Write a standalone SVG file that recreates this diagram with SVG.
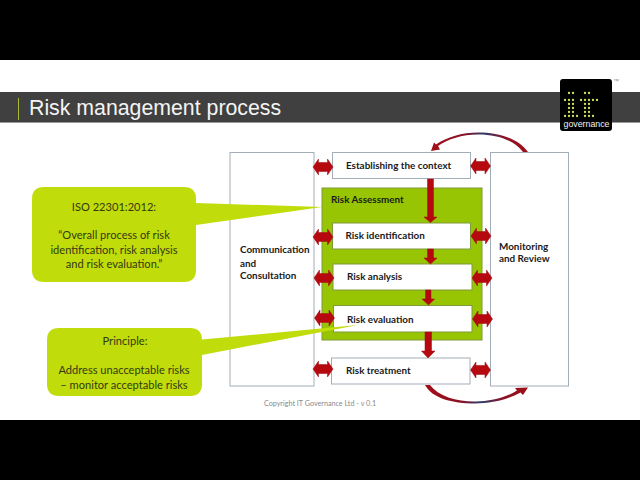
<svg xmlns="http://www.w3.org/2000/svg" width="640" height="480" viewBox="0 0 640 480">
<style>
.box{fill:#fff;stroke:#a3adb8;stroke-width:1}
.inner{fill:#fff;stroke:#7f9a3a;stroke-width:1}
.lbl{font-family:Lato,"Open Sans",sans-serif;font-weight:700;font-size:9.900px;fill:#1a1a1a}
.call{font-family:Lato,"Open Sans",sans-serif;font-size:11.100px;fill:#333a10;text-anchor:middle}
.lime{fill:#c1dc0b}
.red{fill:#b5090f;stroke:#a50a10;stroke-width:.5}
.d{fill:#d2e45c}
</style>
<defs>
<path id="dbl" d="M-10 0L-4.500 -8V-4.500H4.500V-8L10 0L4.500 8V4.500H-4.500V8Z"/>
<linearGradient id="cg" x1="0" x2="1" y1="0" y2="0"><stop offset="0" stop-color="#a30d18"/><stop offset=".35" stop-color="#8a1226"/><stop offset=".55" stop-color="#2f3f6e"/><stop offset=".75" stop-color="#8a1226"/><stop offset="1" stop-color="#a30d18"/></linearGradient>
<circle id="o" r="1.150"/>
</defs>
<rect width="640" height="480" fill="#fff"/>
<rect width="640" height="60" fill="#000"/>
<rect y="420" width="640" height="60" fill="#000"/>
<g id="header">
<rect y="92" width="640" height="30.500" fill="#404040"/>
<rect y="122" width="640" height="1" fill="#9a9a9a"/>
<rect x="18" y="98" width="1" height="22" fill="#a8b832"/>
<text x="29" y="115" font-family="'Liberation Sans',Arial,sans-serif" font-size="21.300px" fill="#f4f4f4">Risk management process</text>
</g>
<g id="logo">
<rect x="560" y="79" width="52" height="52" rx="3" fill="#000"/>
<g class="d">
<use href="#o" x="569" y="93"/><use href="#o" x="573" y="93"/><use href="#o" x="585" y="93"/><use href="#o" x="589" y="93"/>
<use href="#o" x="565" y="100"/><use href="#o" x="569" y="100"/><use href="#o" x="573" y="100"/><use href="#o" x="581" y="100"/><use href="#o" x="585" y="100"/><use href="#o" x="589" y="100"/><use href="#o" x="593" y="100"/><use href="#o" x="597" y="100"/>
<use href="#o" x="569" y="104"/><use href="#o" x="573" y="104"/><use href="#o" x="585" y="104"/><use href="#o" x="589" y="104"/>
<use href="#o" x="569" y="108"/><use href="#o" x="573" y="108"/><use href="#o" x="585" y="108"/><use href="#o" x="589" y="108"/>
<use href="#o" x="569" y="112"/><use href="#o" x="573" y="112"/><use href="#o" x="585" y="112"/><use href="#o" x="589" y="112"/>
<use href="#o" x="565" y="116"/><use href="#o" x="569" y="116"/><use href="#o" x="573" y="116"/><use href="#o" x="577" y="116"/><use href="#o" x="585" y="116"/><use href="#o" x="589" y="116"/><use href="#o" x="593" y="116"/>
</g>
<text x="563.500" y="127" font-family="'Liberation Sans',sans-serif" font-size="8.800px" fill="#f2f2f2">governance</text>
<text x="613" y="83" font-family="'Liberation Sans',sans-serif" font-size="6px" fill="#8a8a8a">™</text>
</g>
<g id="communication">
<rect class="box" x="230" y="152.500" width="84" height="233.500"/>
<text class="lbl" x="240" y="253">Communication</text>
<text class="lbl" x="240" y="267">and</text>
<text class="lbl" x="240" y="279">Consultation</text>
</g>
<g id="monitoring">
<rect class="box" x="490.500" y="152.500" width="78" height="233.500"/>
<text class="lbl" x="499" y="250">Monitoring</text>
<text class="lbl" x="499" y="262">and Review</text>
</g>
<g id="assessment">
<rect x="322" y="188" width="160" height="152" fill="#97c504" stroke="#7f9a3a"/>
<text class="lbl" x="331" y="202.500">Risk Assessment</text>
</g>
<g id="context">
<rect class="box" x="332.500" y="152.500" width="138" height="26"/>
<text class="lbl" x="346" y="168.500">Establishing the context</text>
</g>
<g id="identification">
<rect class="inner" x="332.500" y="223" width="138" height="26"/>
<text class="lbl" x="345.500" y="238.500">Risk identification</text>
</g>
<g id="analysis">
<rect class="inner" x="333" y="264" width="139" height="26"/>
<text class="lbl" x="347" y="280">Risk analysis</text>
</g>
<g id="evaluation">
<rect class="inner" x="333.500" y="305.500" width="138.500" height="26.500"/>
<text class="lbl" x="347" y="323">Risk evaluation</text>
</g>
<g id="treatment">
<rect class="box" x="331.500" y="358" width="138.500" height="26"/>
<text class="lbl" x="346" y="373.500">Risk treatment</text>
</g>
<g id="connectors">
<g class="red">
<use href="#dbl" x="323" y="167"/><use href="#dbl" x="323" y="237"/><use href="#dbl" x="324" y="278"/><use href="#dbl" x="324.500" y="318"/><use href="#dbl" x="323" y="369"/>
<use href="#dbl" x="480.500" y="166"/><use href="#dbl" x="481" y="236"/><use href="#dbl" x="482" y="278"/><use href="#dbl" x="482.500" y="319"/><use href="#dbl" x="480.500" y="370"/>
<path d="M427.500 179H433.500V217H437L430.500 222.500L424 217H427.500Z"/>
<path d="M427.500 249H433.500V258H437L430.500 264L424 258H427.500Z"/>
<path d="M425.500 290H431V299H434.500L428.500 305L422 299H425.500Z"/>
<path d="M425 332H431.500V351H435L428 358L421.500 351H425Z"/>
</g>
<path fill="url(#cg)" d="M528 152H523C514 140 497 134.500 478 134.500C462 134.500 448 139 438 146L440 149.500L431 151L434 142.500L436 144.500C447 137 462 132.500 478 132.500C500 132.500 519 139 528 152Z"/>
<path fill="url(#cg)" d="M425 385H430C438 396 456 401.500 475 401.500C491 401.500 507 397 517 390.500L515 388L528 387.500L523 395L520.500 392.500C508 399.500 492 403.500 475 403.500C452 403.500 432 398 425 385Z"/>
</g>
<g id="callout-iso">
<path class="lime" d="M44 187H184Q196 187 196 199V203L322 207L196 225V270Q196 282 184 282H44Q32 282 32 270V199Q32 187 44 187Z"/>
<text class="call" x="114" y="211">ISO 22301:2012:</text>
<text class="call" x="114" y="239">“Overall process of risk</text>
<text class="call" x="114" y="254">identification, risk analysis</text>
<text class="call" x="114" y="268">and risk evaluation.”</text>
</g>
<g id="callout-principle">
<path class="lime" d="M59 328H190Q202 328 202 340V339.500L358 325L202 355V384Q202 396 190 396H59Q47 396 47 384V340Q47 328 59 328Z"/>
<text class="call" x="125" y="345">Principle:</text>
<text class="call" x="124" y="374">Address unacceptable risks</text>
<text class="call" x="124" y="389">– monitor acceptable risks</text>
</g>
<text x="320" y="406" font-family="Lato,'Open Sans',sans-serif" font-size="7.200px" fill="#8a8a8a" text-anchor="middle">Copyright IT Governance Ltd - v 0.1</text>
</svg>
